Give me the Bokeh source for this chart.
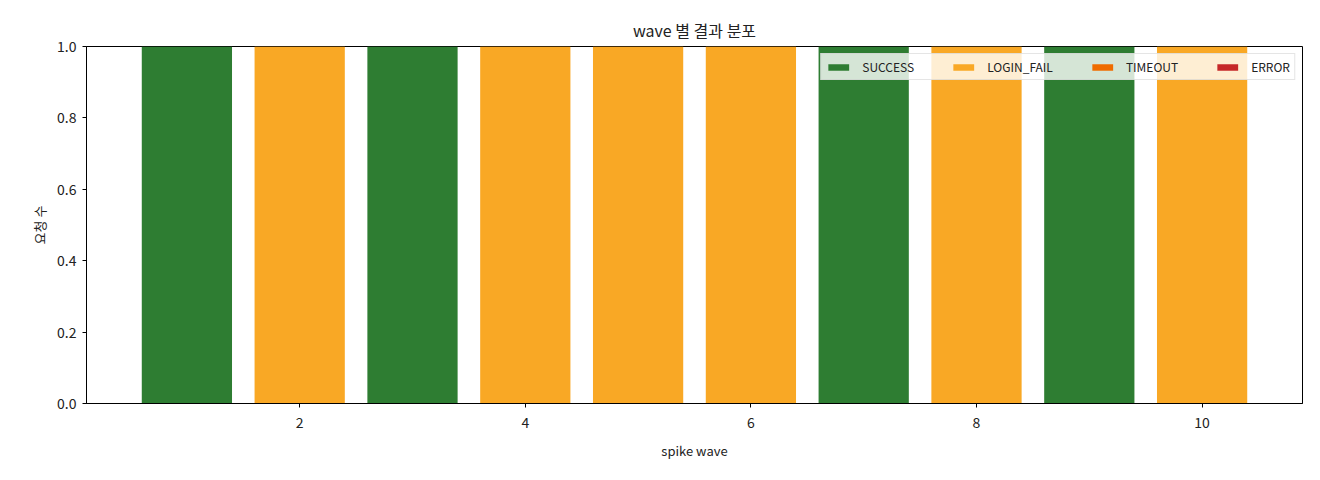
from bokeh.plotting import figure
from bokeh.models import ColumnDataSource, Range1d, FixedTicker, Legend, CustomJSTickFormatter
from bokeh.embed import file_html
from bokeh.resources import INLINE

waves = [1, 2, 3, 4, 5, 6, 7, 8, 9, 10]
success = [1, 0, 1, 0, 0, 0, 1, 0, 1, 0]
login_fail = [0, 1, 0, 1, 1, 1, 0, 1, 0, 1]
timeout = [0, 0, 0, 0, 0, 0, 0, 0, 0, 0]
error = [0, 0, 0, 0, 0, 0, 0, 0, 0, 0]
categories = ["SUCCESS", "LOGIN_FAIL", "TIMEOUT", "ERROR"]
colors = ["#2e7d32", "#f9a825", "#ef6c00", "#c62828"]
x_ticks = [2, 4, 6, 8, 10]
y_ticks = [0.0, 0.2, 0.4, 0.6, 0.8, 1.0]

FONT = "Noto Sans CJK KR"

source = ColumnDataSource(dict(wave=waves, SUCCESS=success, LOGIN_FAIL=login_fail,
                               TIMEOUT=timeout, ERROR=error))

p = figure(width=1304, height=464, output_backend="svg", toolbar_location=None,
           x_range=Range1d(0.11, 10.89), y_range=Range1d(0, 1),
           min_border_left=86, min_border_right=2, min_border_top=46, min_border_bottom=61)

renderers = p.vbar_stack(categories, x="wave", width=0.8, color=colors, source=source,
                         line_width=0)

legend = Legend(items=[(c, [r]) for c, r in zip(categories, renderers)],
                orientation="horizontal", location="top_right")
legend.label_text_font = FONT
legend.label_text_font_size = "12px"
legend.label_text_color = "#222222"
legend.glyph_width = 26
legend.glyph_height = 8
legend.spacing = 36
legend.padding = 4
legend.margin = 7
legend.label_standoff = 11
legend.label_height = 10
legend.background_fill_alpha = 0.8
legend.border_line_color = "#cccccc"
legend.border_line_width = 1
p.add_layout(legend, "center")

p.title.text = "wave 별 결과 분포"
p.title.align = "center"
p.title.text_font = FONT
p.title.text_font_size = "16px"
p.title.text_font_style = "normal"
p.title.text_color = "#222222"

p.xgrid.visible = False
p.ygrid.visible = False
p.outline_line_color = "black"
p.outline_line_width = 1
p.outline_line_alpha = 1

for ax in (p.xaxis[0], p.yaxis[0]):
    ax.major_label_text_font = FONT
    ax.major_label_text_font_size = "14px"
    ax.major_label_text_color = "#222222"
    ax.axis_label_text_font = FONT
    ax.axis_label_text_font_size = "13px"
    ax.axis_label_text_font_style = "normal"
    ax.axis_label_text_color = "#222222"
    ax.major_tick_in = 0
    ax.major_tick_out = 4
    ax.minor_tick_line_color = None
    ax.axis_line_color = "black"
    ax.major_tick_line_color = "black"

p.xaxis.ticker = FixedTicker(ticks=x_ticks)
p.yaxis.ticker = FixedTicker(ticks=y_ticks)
p.yaxis.formatter = CustomJSTickFormatter(code="return tick.toFixed(1);")
p.xaxis.major_label_standoff = 9
p.xaxis.axis_label_standoff = 10
p.yaxis.major_label_standoff = 6
p.xaxis.axis_label = "spike wave"
p.yaxis.axis_label = "요청 수"

open("out.html", "w").write(file_html(p, INLINE))
